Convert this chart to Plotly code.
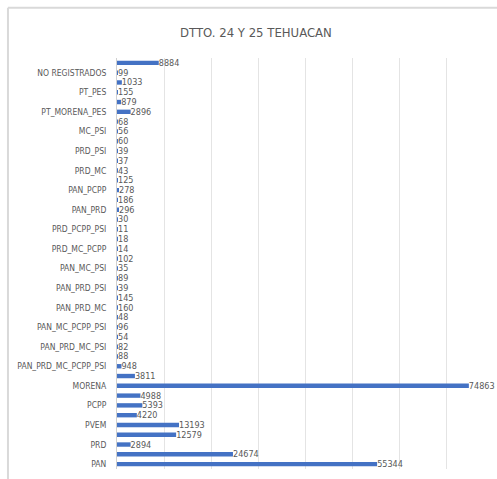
import plotly.graph_objects as go

# Categories from bottom to top
categories = [
    "PAN", "PRI", "PRD", "PT", "PVEM", "MC", "PCPP", "PSI", "MORENA", "PES",
    "PAN_PRD_MC_PCPP_PSI", "PAN_PRD_MC_PCPP", "PAN_PRD_MC_PSI", "PAN_PRD_PCPP_PSI",
    "PAN_MC_PCPP_PSI", "PRD_MC_PCPP_PSI", "PAN_PRD_MC", "PAN_PRD_PCPP",
    "PAN_PRD_PSI", "PAN_MC_PCPP", "PAN_MC_PSI", "PAN_PCPP_PSI", "PRD_MC_PCPP",
    "PRD_MC_PSI", "PRD_PCPP_PSI", "MC_PCPP_PSI", "PAN_PRD", "PAN_MC", "PAN_PCPP",
    "PAN_PSI", "PRD_MC", "PRD_PCPP", "PRD_PSI", "MC_PCPP", "MC_PSI", "PCPP_PSI",
    "PT_MORENA_PES", "PT_MORENA", "PT_PES", "MORENA_PES", "NO REGISTRADOS", "NULOS",
]
values = [
    55344, 24674, 2894, 12579, 13193, 4220, 5393, 4988, 74863, 3811,
    948, 88, 82, 54, 96, 48, 160, 145, 39, 89, 35, 102, 14, 18, 11, 30,
    296, 186, 278, 125, 43, 37, 39, 60, 56, 68, 2896, 879, 155, 1033, 99, 8884,
]
# Excel shows every other category label
shown_labels = categories[0::2]

title_text = "DTTO. 24 Y 25 TEHUACAN"
font_family = "DejaVu Sans Condensed, Liberation Sans, sans-serif"
grey = "#595959"

fig = go.Figure(
    go.Bar(
        y=categories,
        x=values,
        orientation="h",
        marker=dict(color="#4472C4", line=dict(width=0)),
        text=[str(v) for v in values],
        textposition="outside",
        textfont=dict(family=font_family, size=9, color=grey),
        constraintext="none",
        cliponaxis=False,
        hoverinfo="x+y",
    )
)

fig.update_layout(
    width=497,
    height=479,
    margin=dict(l=117, r=4, t=58, b=10),
    paper_bgcolor="white",
    plot_bgcolor="white",
    bargap=0.55,
    showlegend=False,
    title=dict(
        text=title_text,
        x=0.515,
        xanchor="center",
        y=1 - 32 / 479,
        yanchor="middle",
        font=dict(family=font_family, size=13, color=grey),
    ),
    font=dict(family=font_family, color=grey),
    shapes=[
        dict(type="line", xref="paper", yref="paper",
             x0=-0.29, x1=-0.29, y0=1.122, y1=-0.03,
             line=dict(color="#d9d9d9", width=2)),
        dict(type="line", xref="paper", yref="paper",
             x0=-0.29, x1=1.02, y0=1.122, y1=1.122,
             line=dict(color="#d9d9d9", width=2)),
    ],
)

fig.update_xaxes(
    range=[0, 80000],
    dtick=10000,
    showgrid=True,
    gridcolor="#e4e4e4",
    gridwidth=1,
    zeroline=False,
    showticklabels=False,
    showline=False,
    automargin=False,
)

fig.update_yaxes(
    type="category",
    categoryorder="array",
    categoryarray=categories,
    tickmode="array",
    tickvals=shown_labels,
    ticktext=shown_labels,
    tickfont=dict(family=font_family, size=8.5, color=grey),
    ticks="outside",
    ticklen=8,
    tickcolor="rgba(0,0,0,0)",
    showline=True,
    linecolor="#d0d0d0",
    linewidth=1,
    showgrid=False,
    automargin=False,
    range=[-0.5, len(categories) - 0.5],
)

fig.write_html(
    "out.html",
    config={"displayModeBar": False},
    post_script="document.body.style.margin='0';document.body.style.overflow='hidden';",
)
